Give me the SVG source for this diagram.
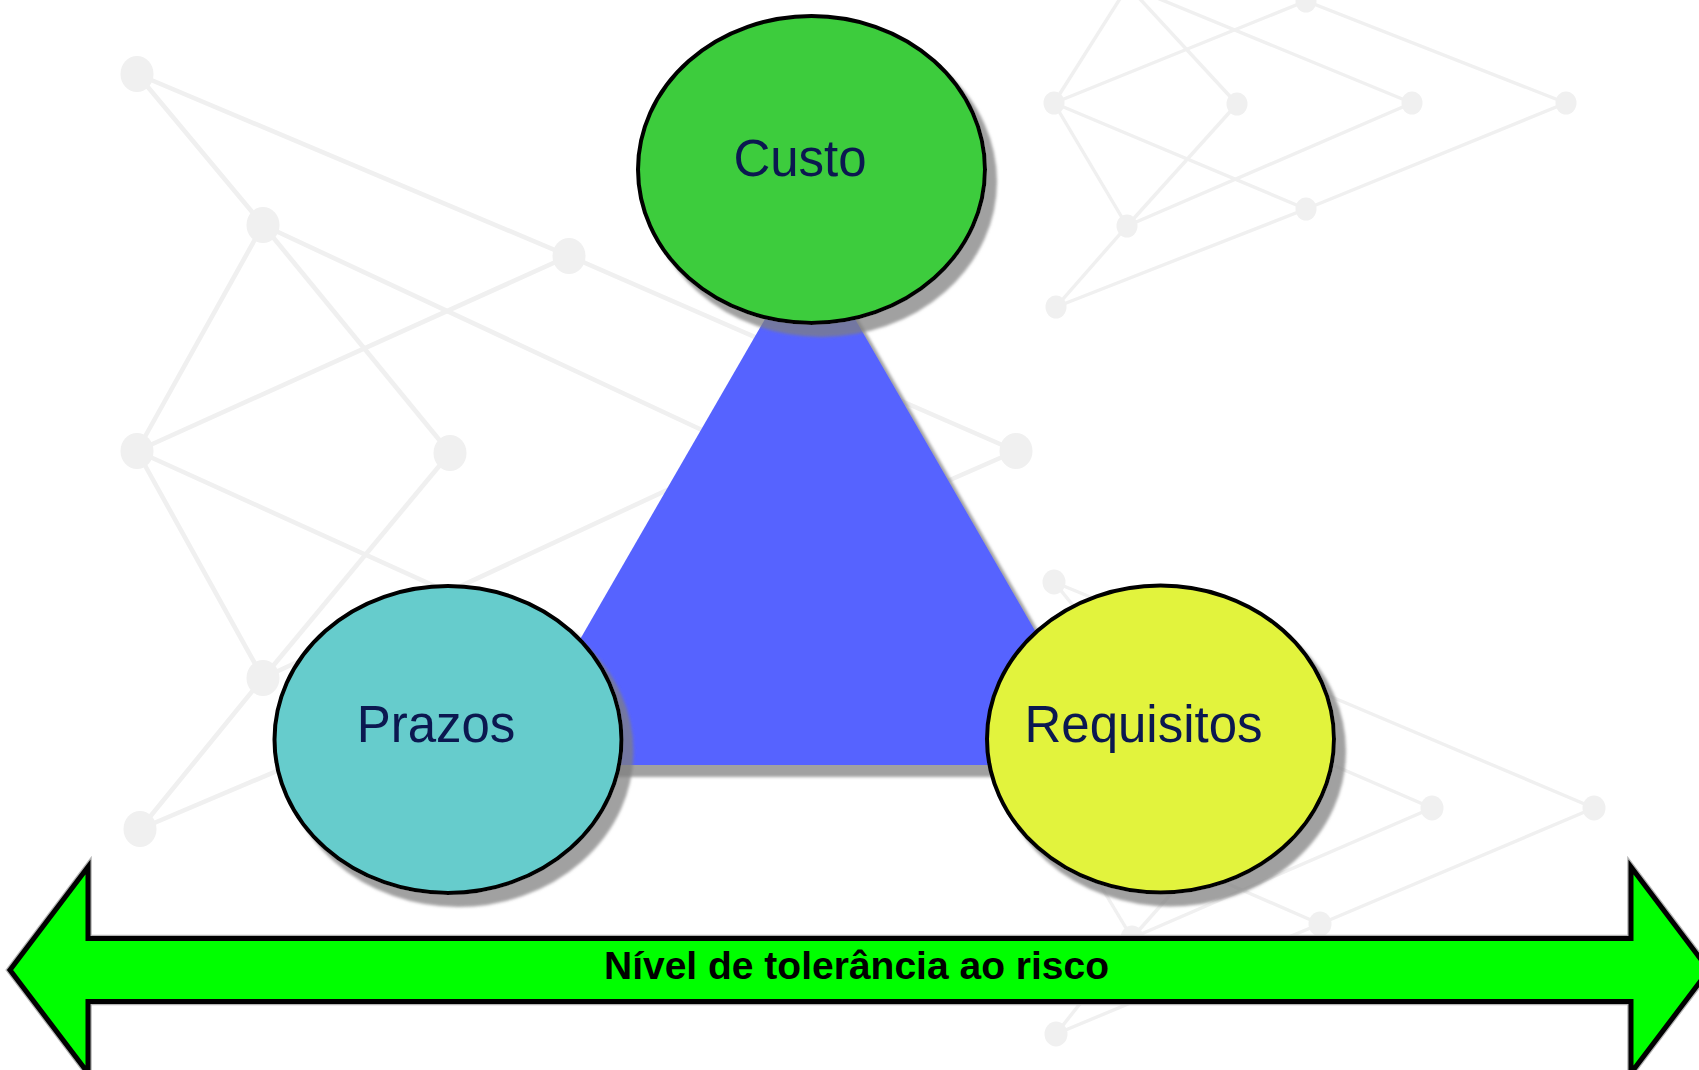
<svg xmlns="http://www.w3.org/2000/svg" width="1699" height="1070" viewBox="0 0 1699 1070">
  <defs>
    <filter id="shadow" x="-15%" y="-15%" width="140%" height="140%">
      <feGaussianBlur in="SourceAlpha" stdDeviation="1.5"/>
      <feOffset dx="10" dy="12" result="b"/>
      <feFlood flood-color="#7f7f7f" flood-opacity="0.73"/>
      <feComposite in2="b" operator="in"/>
      <feMerge><feMergeNode/><feMergeNode in="SourceGraphic"/></feMerge>
    </filter>
    <style>
      .net line { stroke: #f0f0f0; stroke-linecap: round; }
      .net ellipse { fill: #f0f0f0; }
      .netL line { stroke-width: 4.6; }
      .netS line { stroke-width: 3.4; }
      .bubble { stroke: #000; stroke-width: 4; }
      .lbl { font-family: "Liberation Sans", Arial, sans-serif; font-size: 51px; fill: #0b1850; text-anchor: middle; }
      .arrowtxt { font-family: "Liberation Sans", Arial, sans-serif; font-size: 39px; font-weight: bold; fill: #000; text-anchor: middle; }
    </style>
  </defs>
  <rect width="1699" height="1070" fill="#fff"/>

  <!-- background network decoration -->
  <g id="connectors">
    <g id="net-left" class="net netL">
      <line x1="137" y1="74" x2="263" y2="225"/>
      <line x1="137" y1="74" x2="569" y2="256"/>
      <line x1="263" y1="225" x2="137" y2="451"/>
      <line x1="263" y1="225" x2="450" y2="453"/>
      <line x1="263" y1="225" x2="749" y2="452"/>
      <line x1="569" y1="256" x2="137" y2="451"/>
      <line x1="569" y1="256" x2="1016" y2="451"/>
      <line x1="137" y1="451" x2="263" y2="678"/>
      <line x1="137" y1="451" x2="569" y2="647"/>
      <line x1="450" y1="453" x2="263" y2="678"/>
      <line x1="749" y1="452" x2="263" y2="678"/>
      <line x1="1016" y1="451" x2="569" y2="647"/>
      <line x1="263" y1="678" x2="140" y2="829"/>
      <line x1="569" y1="647" x2="140" y2="829"/>
      <ellipse cx="137" cy="74" rx="16.5" ry="18"/>
      <ellipse cx="263" cy="225" rx="16.5" ry="18"/>
      <ellipse cx="569" cy="256" rx="16.5" ry="18"/>
      <ellipse cx="137" cy="451" rx="16.5" ry="18"/>
      <ellipse cx="450" cy="453" rx="16.5" ry="18"/>
      <ellipse cx="749" cy="452" rx="16.5" ry="18"/>
      <ellipse cx="1016" cy="451" rx="16.5" ry="18"/>
      <ellipse cx="263" cy="678" rx="16.5" ry="18"/>
      <ellipse cx="569" cy="647" rx="16.5" ry="18"/>
      <ellipse cx="140" cy="829" rx="16.5" ry="18"/>
    </g>
    <g id="net-top-right" class="net netS">
      <line x1="1054" y1="-103" x2="1128" y2="-14"/>
      <line x1="1054" y1="-103" x2="1306" y2="1"/>
      <line x1="1128" y1="-14" x2="1054" y2="103"/>
      <line x1="1128" y1="-14" x2="1237" y2="104"/>
      <line x1="1128" y1="-14" x2="1412" y2="103"/>
      <line x1="1306" y1="1" x2="1054" y2="103"/>
      <line x1="1306" y1="1" x2="1566" y2="103"/>
      <line x1="1054" y1="103" x2="1127" y2="226"/>
      <line x1="1054" y1="103" x2="1306" y2="209"/>
      <line x1="1237" y1="104" x2="1127" y2="226"/>
      <line x1="1412" y1="103" x2="1127" y2="226"/>
      <line x1="1566" y1="103" x2="1306" y2="209"/>
      <line x1="1127" y1="226" x2="1056" y2="307"/>
      <line x1="1306" y1="209" x2="1056" y2="307"/>
      <ellipse cx="1306" cy="1" rx="10.5" ry="11.5"/>
      <ellipse cx="1054" cy="103" rx="10.5" ry="11.5"/>
      <ellipse cx="1237" cy="104" rx="10.5" ry="11.5"/>
      <ellipse cx="1412" cy="103" rx="10.5" ry="11.5"/>
      <ellipse cx="1566" cy="103" rx="10.5" ry="11.5"/>
      <ellipse cx="1127" cy="226" rx="10.5" ry="11.5"/>
      <ellipse cx="1306" cy="209" rx="10.5" ry="11.5"/>
      <ellipse cx="1056" cy="307" rx="10.5" ry="11.5"/>
    </g>
    <g id="net-bottom-right" class="net netS">
      <line x1="1054" y1="582" x2="1132" y2="678"/>
      <line x1="1054" y1="582" x2="1320" y2="692"/>
      <line x1="1132" y1="678" x2="1054" y2="808"/>
      <line x1="1132" y1="678" x2="1247" y2="808"/>
      <line x1="1132" y1="678" x2="1432" y2="808"/>
      <line x1="1320" y1="692" x2="1054" y2="808"/>
      <line x1="1320" y1="692" x2="1594" y2="808"/>
      <line x1="1054" y1="808" x2="1132" y2="938"/>
      <line x1="1054" y1="808" x2="1320" y2="924"/>
      <line x1="1247" y1="808" x2="1132" y2="938"/>
      <line x1="1432" y1="808" x2="1132" y2="938"/>
      <line x1="1594" y1="808" x2="1320" y2="924"/>
      <line x1="1132" y1="938" x2="1056" y2="1034"/>
      <line x1="1320" y1="924" x2="1056" y2="1034"/>
      <ellipse cx="1054" cy="582" rx="11.5" ry="12.5"/>
      <ellipse cx="1432" cy="808" rx="11.5" ry="12.5"/>
      <ellipse cx="1594" cy="808" rx="11.5" ry="12.5"/>
      <ellipse cx="1132" cy="938" rx="11.5" ry="12.5"/>
      <ellipse cx="1320" cy="924" rx="11.5" ry="12.5"/>
      <ellipse cx="1056" cy="1034" rx="11.5" ry="12.5"/>
    </g>
  </g>

  <g id="triangle">
    <polygon points="810,241 1112.5,765 507.5,765" fill="#5663ff" filter="url(#shadow)"/>
  </g>

  <g id="prazos">
    <ellipse class="bubble" cx="448" cy="739.5" rx="173.5" ry="153.5" fill="#66cccc" filter="url(#shadow)"/>
    <text class="lbl" x="436" y="742">Prazos</text>
  </g>

  <g id="requisitos">
    <ellipse class="bubble" cx="1160.5" cy="739" rx="173.5" ry="153.5" fill="#e2f33c" filter="url(#shadow)"/>
    <text class="lbl" x="1143.5" y="742">Requisitos</text>
  </g>

  <g id="custo">
    <ellipse class="bubble" cx="811.5" cy="169.5" rx="173.5" ry="153.5" fill="#3ccc3c" filter="url(#shadow)"/>
    <text class="lbl" x="800" y="176">Custo</text>
  </g>

  <g id="arrow">
    <path d="M10,970 L88,867 L88,938.5 L1631,938.5 L1631,867 L1709,970 L1631,1073 L1631,1001.5 L88,1001.5 L88,1073 Z" fill="none" stroke="#b4b4b4" stroke-width="7.5"/>
    <path d="M10,970 L88,867 L88,938.5 L1631,938.5 L1631,867 L1709,970 L1631,1073 L1631,1001.5 L88,1001.5 L88,1073 Z" fill="#00ff00" stroke="#000" stroke-width="5"/>
    <text class="arrowtxt" x="856.5" y="978.5">Nível de tolerância ao risco</text>
  </g>
</svg>
